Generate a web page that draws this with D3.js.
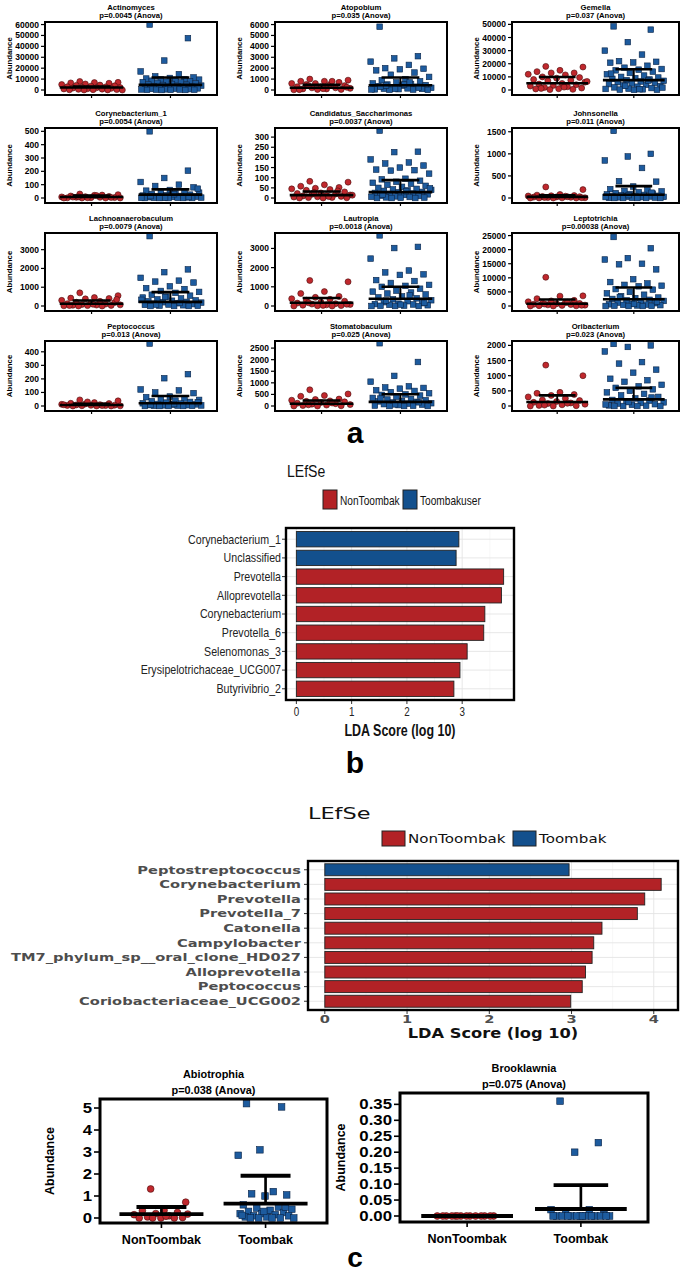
<!DOCTYPE html>
<html><head><meta charset="utf-8">
<script src="https://cdn.jsdelivr.net/npm/d3@7"></script>
<style>body{margin:0;background:#fff}svg{display:block}</style>
</head><body>
<svg id="fig" width="685" height="1275"></svg>
<script>
// ---------------- DATA ----------------
const groupNames = ["NonToombak", "Toombak"];

const panelTitles = ["Actinomyces","Atopobium","Gemella","Corynebacterium_1","Candidatus_Saccharimonas","Johnsonella",
  "Lachnoanaerobaculum","Lautropia","Leptotrichia","Peptococcus","Stomatobaculum","Oribacterium"];
const panelPValues = ["0.0045","0.035","0.037","0.0054","0.0037","0.011","0.0079","0.0018","0.00038","0.013","0.025","0.023"];
const panelYMax = [60500, 6050, 50300, 510, 335, 1540, 3780, 3700, 25200, 465, 2720, 2080];
const panelTicks = [
  [0,10000,20000,30000,40000,50000,60000],
  [0,1000,2000,3000,4000,5000,6000],
  [0,10000,20000,30000,40000,50000],
  [0,100,200,300,400,500],
  [0,50,100,150,200,250,300],
  [0,500,1000,1500],
  [0,1000,2000,3000],
  [0,1000,2000,3000],
  [0,5000,10000,15000,20000,25000],
  [0,100,200,300,400],
  [0,500,1000,1500,2000,2500],
  [0,500,1000,1500,2000]
];
const redMean  = [2300, 210, 5200, 8, 14, 25, 120, 170, 800, 7, 100, 130];
const redUpper = [3200, 480, 9900, 18, 32, 60, 290, 420, 2300, 17, 240, 350];
const blueMean  = [4700, 430, 7500, 25, 29, 75, 220, 380, 2400, 20, 180, 220];
const blueUpper = [11500, 1150, 15800, 65, 88, 270, 740, 1000, 6550, 74, 510, 600];

const redValues = [
  [7800,7000,6800,6500,6200,5500,5000,4500,4200,3800,3500,3000,2800,2500,2200,2000,1800,1500,1200,1000,800,600,400,300,200,100,50,0],
  [1000,900,800,800,700,600,600,500,500,400,300,300,200,200,150,100,100,50,50,20,800,400,250,120,30],
  [18000,17500,15000,14000,13000,13000,12000,11500,10000,9500,9000,8000,7500,7000,6000,5000,4500,4000,3500,3000,2500,2000,1500,1000,800,500,300,6500,2200,1200],
  [30,25,20,15,12,10,8,5,5,3,2,1,0,0,0,18,7,4,2,0,22,9],
  [82,78,65,58,52,48,45,42,38,30,25,22,20,18,15,12,10,8,6,5,3,2,1,0,0,35,28,14,7],
  [250,190,80,65,55,50,45,40,35,30,25,20,15,10,5,3,1,0,0,0,30,12,8],
  [700,550,450,420,400,380,300,250,200,180,150,120,100,80,60,50,40,30,20,10,0,0,350,90,25],
  [1330,1260,750,650,500,450,380,350,300,250,200,150,120,100,80,60,40,20,10,0,0,170,90,30],
  [10200,3600,3500,2600,2000,1800,1500,1200,1000,900,800,600,500,400,300,200,100,50,0,0,1300,700,250],
  [45,38,25,20,18,15,12,10,8,6,5,4,3,2,1,0,0,0,30,9,3],
  [700,520,450,420,300,280,250,220,200,180,150,120,100,80,60,40,20,10,0,0,130,50],
  [1350,1000,450,420,380,350,300,250,200,180,150,120,100,80,60,40,20,10,0,0,90,30]
];
const blueValues = [
  [60000,47500,27000,17000,14500,12500,11500,11000,10500,10000,9800,9500,9000,8500,8000,7600,7200,7000,6500,6000,5500,5000,4800,4500,4000,3600,3200,3000,2600,2200,2000,1800,1500,1200,1000,800,600,500,400,300,200,150,100,50,0],
  [5800,3100,2900,2600,2300,2000,1950,1900,1800,1600,1400,1200,1000,900,800,700,600,550,500,450,400,350,300,250,200,150,120,100,80,60,40,20,10,500,300,200,100,50,700,400],
  [48500,46000,36500,30000,27000,22000,21500,21000,20800,18500,17000,16000,15500,15000,14000,13000,12000,11000,10000,9500,9000,8500,8000,7500,7000,6500,6000,5500,5000,4500,4000,3500,3000,2500,2000,1500,1000,800,500,300,200,100,12500,7200,3200,1800,600],
  [500,205,150,120,100,90,80,60,55,50,45,40,35,30,25,20,18,15,12,10,8,6,5,4,3,2,1,0,0,0,0,0,70,28,14,7,3,1],
  [332,228,226,190,175,170,160,150,140,137,135,120,95,92,85,80,75,70,65,60,55,50,45,42,40,38,35,30,28,25,22,20,18,15,12,10,8,6,5,3,2,1,0,0,0,48,33,17],
  [1520,1000,940,850,680,380,370,260,200,180,160,150,130,110,100,90,80,70,60,50,45,40,35,30,25,20,15,10,5,3,1,0,0,0,0,120,65,22],
  [3720,1950,1800,1500,1350,1300,1250,1050,950,900,800,750,700,600,550,500,450,400,350,300,280,250,220,200,180,150,120,100,80,60,40,20,10,0,0,0,480,330,160,70],
  [3680,3080,3020,2470,1850,1750,1650,1620,1350,1300,1200,1100,1050,1000,900,800,750,700,650,600,500,450,400,350,300,250,200,150,120,100,80,60,40,20,10,0,0,0,550,280,160,70],
  [24500,20500,17000,16500,15000,14800,13000,9500,8500,8000,7500,7200,7000,6000,5800,5000,4500,4000,3500,3000,2800,2500,2200,2000,1800,1500,1200,1000,800,600,500,400,300,200,100,50,0,0,0,3200,1600,700],
  [461,235,205,122,115,100,95,70,65,55,50,45,40,35,30,25,20,18,15,12,10,8,6,5,4,3,2,1,0,0,0,0,28,14,7],
  [2710,1900,1300,1050,850,800,780,750,680,650,600,550,500,480,450,400,350,300,280,250,220,200,180,150,120,100,80,60,40,20,10,0,0,0,320,160,70],
  [2050,2000,1950,1800,1450,1400,1200,1100,900,850,800,700,650,600,550,500,450,400,350,300,250,200,180,150,120,100,80,60,40,20,10,0,0,0,0,280,130,50]
];

// LEfSe (b)
const lefseBTaxa = ["Corynebacterium_1","Unclassified","Prevotella","Alloprevotella","Corynebacterium","Prevotella_6","Selenomonas_3","Erysipelotrichaceae_UCG007","Butyrivibrio_2"];
const lefseBScores = [2.94, 2.89, 3.75, 3.71, 3.41, 3.39, 3.09, 2.96, 2.85];
const lefseBGroups = ["Toombakuser","Toombakuser","NonToombak","NonToombak","NonToombak","NonToombak","NonToombak","NonToombak","NonToombak"];
const lefseBLegend = ["NonToombak","Toombakuser"];
const lefseBTicks = [0,1,2,3];

// LEfSe (c)
const lefseCTaxa = ["Peptostreptococcus","Corynebacterium","Prevotella","Prevotella_7","Catonella","Campylobacter","TM7_phylum_sp__oral_clone_HD027","Alloprevotella","Peptococcus","Coriobacteriaceae_UCG002"];
const lefseCScores = [2.97, 4.09, 3.89, 3.80, 3.37, 3.27, 3.25, 3.17, 3.13, 2.99];
const lefseCGroups = ["Toombak","NonToombak","NonToombak","NonToombak","NonToombak","NonToombak","NonToombak","NonToombak","NonToombak","NonToombak"];
const lefseCLegend = ["NonToombak","Toombak"];
const lefseCTicks = [0,1,2,3,4];

// Bottom scatter panels (c)
const bottomTitles = ["Abiotrophia","Brooklawnia"];
const bottomPValues = ["0.038","0.075"];
const bottomYMax = [5.41, 0.3856];
const bottomTicks = [[0,1,2,3,4,5],[0,0.05,0.10,0.15,0.20,0.25,0.30,0.35]];
const bottomRedMean = [0.18, 0.0];
const bottomRedUpper = [0.50, 0.0];
const bottomBlueMean = [0.65, 0.022];
const bottomBlueUpper = [1.92, 0.097];
const abiotrophiaRed = [1.32,0.72,0.35,0.33,0.25,0.2,0.15,0.1,0.05,0.02,0,0,0,0,0.18,0.08];
const abiotrophiaBlue = [5.2,5.05,3.1,2.85,1.2,1.1,1.05,1.0,0.6,0.5,0.45,0.4,0.35,0.3,0.25,0.2,0.2,0.15,0.1,0.1,0.05,0.05,0,0,0,0,0,0.5,0.3,0.12];
const brooklawniaRed = [0,0,0,0,0,0,0,0,0,0,0,0,0,0];
const brooklawniaBlue = [0.36,0.23,0.20,0.02,0.02,0.01,0.005,0,0,0,0,0,0,0,0,0,0,0,0,0,0];

// ---------------- STYLE / LAYOUT ----------------
const RED_PT = "#c0282d", RED_PT_EDGE = "#4a0b0c";
const BLUE_PT = "#1d5b9e", BLUE_PT_EDGE = "#0a2446";
const RED_BAR = "#b22226", BLUE_BAR = "#13508d";
const SANS = "'Liberation Sans', Arial, Helvetica, sans-serif";
const DEJAVU = "'DejaVu Sans', Verdana, sans-serif";

const svg = d3.select("#fig");

function txt(g, x, y, s, o = {}) {
  return g.append("text")
    .attr("transform", `translate(${x},${y})` + (o.rot ? ` rotate(${o.rot})` : "") + ` scale(${o.sx || 1},1)`)
    .attr("text-anchor", o.anchor || "middle")
    .attr("dominant-baseline", o.base || "central")
    .attr("font-family", o.family || SANS)
    .attr("font-size", o.size || 10)
    .attr("font-weight", o.weight || "normal")
    .attr("fill", o.fill || "#000")
    .text(s);
}

function jitter(i, hw) {
  return (((i * 0.6180339887 + 0.31) % 1) - 0.5) * 2 * hw;
}

function scatter(p) {
  const g = svg.append("g");
  const { x0, x1, y0, y1 } = p.box;
  const w = x1 - x0;
  const y = d3.scaleLinear().domain([0, p.ymax]).range([y1 - p.padB, y0 + p.padT]);
  const x = d3.scalePoint().domain(groupNames).range([x0, x1]).padding(0.59);
  const cr = x(groupNames[0]), cb = x(groupNames[1]);
  const hw = p.jit * w;

  g.selectAll(".yt").data(p.ticks).join("line")
    .attr("x1", x0 - p.tickLen).attr("x2", x0).attr("y1", d => y(d)).attr("y2", d => y(d))
    .attr("stroke", "#000").attr("stroke-width", p.tickW);
  p.ticks.forEach(t => txt(g, x0 - p.tickLen - 2, y(t), p.fmt(t),
    { anchor: "end", size: p.tickSize, weight: "bold", sx: p.tickSx }));
  [cr, cb].forEach(cx => g.append("line").attr("x1", cx).attr("x2", cx)
    .attr("y1", y1).attr("y2", y1 + p.xTickLen).attr("stroke", "#000").attr("stroke-width", p.tickW));

  g.selectAll(".rp").data(p.red).join("circle")
    .attr("cx", (d, i) => cr + jitter(i, hw)).attr("cy", d => y(d)).attr("r", p.r)
    .attr("fill", RED_PT).attr("stroke", RED_PT_EDGE).attr("stroke-width", 0.6);
  g.selectAll(".bp").data(p.blue).join("rect")
    .attr("x", (d, i) => cb + jitter(i + 3, hw) - p.sq / 2).attr("y", d => y(d) - p.sq / 2)
    .attr("width", p.sq).attr("height", p.sq)
    .attr("fill", BLUE_PT).attr("stroke", BLUE_PT_EDGE).attr("stroke-width", 0.6);

  const mw = 0.185 * w, cw = 0.11 * w;
  [[cr, p.rMean, p.rUp], [cb, p.bMean, p.bUp]].forEach(([cx, m, u]) => {
    if (u > m) {
      g.append("line").attr("x1", cx).attr("x2", cx).attr("y1", y(m)).attr("y2", y(u))
        .attr("stroke", "#000").attr("stroke-width", p.lw * 0.7);
      g.append("line").attr("x1", cx - cw).attr("x2", cx + cw).attr("y1", y(u)).attr("y2", y(u))
        .attr("stroke", "#000").attr("stroke-width", p.lw);
    }
    g.append("line").attr("x1", cx - mw).attr("x2", cx + mw).attr("y1", y(m)).attr("y2", y(m))
      .attr("stroke", "#000").attr("stroke-width", p.lw);
  });

  g.append("rect").attr("x", x0).attr("y", y0).attr("width", w).attr("height", y1 - y0)
    .attr("fill", "none").attr("stroke", "#000").attr("stroke-width", p.boxW);

  txt(g, (x0 + x1) / 2, y0 + p.titleDy, p.title, { size: p.titleSize, weight: "bold", sx: p.titleSx });
  txt(g, (x0 + x1) / 2, y0 + p.pDy, `p=${p.p} (Anova)`, { size: p.titleSize, weight: "bold", sx: p.titleSx });
  txt(g, x0 - p.abOff, (y0 + y1) / 2, "Abundance", { size: p.abSize, weight: "bold", rot: -90 });
  if (p.xLabels) {
    txt(g, cr, y1 + p.xLabDy, groupNames[0], { size: p.xLabSize, weight: "bold", sx: p.xLabSx });
    txt(g, cb, y1 + p.xLabDy, groupNames[1], { size: p.xLabSize, weight: "bold", sx: p.xLabSx });
  }
}

// ---------------- PANEL a ----------------
const colX = [[45, 217], [275, 447], [512, 679]];
const rowY = [[22, 95], [128, 203], [233, 311], [341, 411]];
panelTitles.forEach((t, k) => {
  const c = k % 3, r = Math.floor(k / 3);
  scatter({
    box: { x0: colX[c][0], x1: colX[c][1], y0: rowY[r][0], y1: rowY[r][1] },
    ymax: panelYMax[k], ticks: panelTicks[k], fmt: d3.format("d"),
    red: redValues[k], blue: blueValues[k],
    rMean: redMean[k], rUp: redUpper[k], bMean: blueMean[k], bUp: blueUpper[k],
    title: t, p: panelPValues[k],
    padB: 5, padT: 2, jit: 0.18, r: 3, sq: 5.6, lw: 2.6, boxW: 2,
    tickLen: 4, tickW: 1.2, tickSize: 8.5, tickSx: 1, xTickLen: 3,
    titleSize: 8, titleSx: 0.96, titleDy: -15, pDy: -7,
    abOff: 36, abSize: 7.8, xLabels: false
  });
});
txt(svg, 355, 443, "a", { size: 30, weight: "bold", base: "auto" });

// ---------------- LEfSe ----------------
function lefse(cfg) {
  const g = svg.append("g");
  const { x0, x1, y0, y1 } = cfg.box;
  const maxV = d3.max(cfg.scores);
  const x = d3.scaleLinear().domain([-0.05 * maxV, 1.05 * maxV]).range([x0, x1]);
  const y = d3.scalePoint().domain(cfg.taxa).range([y0, y1]).padding(0.6);
  const color = d3.scaleOrdinal().domain(cfg.legend).range([RED_BAR, BLUE_BAR]);
  const dmax = x.domain()[1];
  const minor = d3.range(0.5, dmax, 1);

  g.selectAll(".mi").data(minor).join("line")
    .attr("x1", d => x(d)).attr("x2", d => x(d)).attr("y1", y0).attr("y2", y1)
    .attr("stroke", "#f2f2f2").attr("stroke-width", 0.6);
  g.selectAll(".ma").data(cfg.ticks).join("line")
    .attr("x1", d => x(d)).attr("x2", d => x(d)).attr("y1", y0).attr("y2", y1)
    .attr("stroke", "#e4e4e4").attr("stroke-width", 0.9);
  g.selectAll(".hg").data(cfg.taxa).join("line")
    .attr("x1", x0).attr("x2", x1).attr("y1", d => y(d)).attr("y2", d => y(d))
    .attr("stroke", "#e4e4e4").attr("stroke-width", 0.9);

  const bh = y.step() * 0.82;
  g.selectAll(".bar").data(cfg.taxa).join("rect")
    .attr("x", x(0)).attr("y", d => y(d) - bh / 2)
    .attr("width", (d, i) => x(cfg.scores[i]) - x(0)).attr("height", bh)
    .attr("fill", (d, i) => color(cfg.groups[i]))
    .attr("stroke", "#222").attr("stroke-width", 0.9);

  g.selectAll(".ytk").data(cfg.taxa).join("line")
    .attr("x1", x0 - 4).attr("x2", x0).attr("y1", d => y(d)).attr("y2", d => y(d))
    .attr("stroke", "#333").attr("stroke-width", 1);
  cfg.taxa.forEach(t => txt(g, x0 - cfg.labGap, y(t), t,
    { anchor: "end", size: cfg.labSize, family: cfg.family, weight: cfg.labWeight, sx: cfg.labSx, fill: cfg.labFill }));
  g.selectAll(".xtk").data(cfg.ticks).join("line")
    .attr("x1", d => x(d)).attr("x2", d => x(d)).attr("y1", y1).attr("y2", y1 + 4)
    .attr("stroke", "#333").attr("stroke-width", 1);
  cfg.ticks.forEach(t => txt(g, x(t), y1 + cfg.tickDy, String(t),
    { size: cfg.tickSize, family: cfg.family, weight: cfg.labWeight, sx: cfg.labSx, fill: cfg.labFill }));
  txt(g, (x0 + x1) / 2, y1 + cfg.xTitleDy, "LDA Score (log 10)",
    { size: cfg.xTitleSize, family: cfg.family, weight: "bold", sx: cfg.xTitleSx, fill: "#111" });

  g.append("rect").attr("x", x0).attr("y", y0).attr("width", x1 - x0).attr("height", y1 - y0)
    .attr("fill", "none").attr("stroke", "#000").attr("stroke-width", 2.4);

  txt(g, cfg.titleX, cfg.titleY, "LEfSe", { anchor: "start", size: cfg.titleSize, family: cfg.family, sx: cfg.titleSx, fill: "#111" });
  cfg.legend.forEach((L, i) => {
    const lx = cfg.legX[i];
    g.append("rect").attr("x", lx).attr("y", cfg.legY - cfg.swH / 2)
      .attr("width", cfg.swW).attr("height", cfg.swH)
      .attr("fill", color(L)).attr("stroke", "#222").attr("stroke-width", 1);
    txt(g, lx + cfg.swW + 3, cfg.legY, L, { anchor: "start", size: cfg.legSize, family: cfg.family, sx: cfg.legSx, fill: "#111" });
  });
}

lefse({
  box: { x0: 286, x1: 514, y0: 528, y1: 700 },
  taxa: lefseBTaxa, scores: lefseBScores, groups: lefseBGroups, legend: lefseBLegend, ticks: lefseBTicks,
  family: SANS, labSize: 13, labSx: 0.82, labWeight: "normal", labFill: "#222", labGap: 5,
  tickSize: 12, tickDy: 12, xTitleSize: 16, xTitleSx: 0.78, xTitleDy: 30,
  titleX: 287, titleY: 471, titleSize: 16, titleSx: 0.88,
  legX: [323, 403], legY: 499.5, swW: 14, swH: 19, legSize: 13, legSx: 0.78
});
txt(svg, 355, 773, "b", { size: 30, weight: "bold", base: "auto" });

lefse({
  box: { x0: 308, x1: 678, y0: 861, y1: 1010 },
  taxa: lefseCTaxa, scores: lefseCScores, groups: lefseCGroups, legend: lefseCLegend, ticks: lefseCTicks,
  family: DEJAVU, labSize: 11, labSx: 1.33, labWeight: "bold", labFill: "#4d4d4d", labGap: 7,
  tickSize: 11, tickDy: 9, xTitleSize: 14, xTitleSx: 1.16, xTitleDy: 23,
  titleX: 308, titleY: 814, titleSize: 16, titleSx: 1.4,
  legX: [382, 513], legY: 838.5, swW: 23, swH: 15, legSize: 12, legSx: 1.26
});

// ---------------- Bottom panels (c) ----------------
const bottomBoxes = [{ x0: 100, x1: 327, y0: 1099, y1: 1223 }, { x0: 400, x1: 648, y0: 1093, y1: 1222 }];
const bottomRed = [abiotrophiaRed, brooklawniaRed];
const bottomBlue = [abiotrophiaBlue, brooklawniaBlue];
const bottomFmt = [d3.format("d"), d3.format(".2f")];
const bottomPadB = [5, 6];
const bottomAbOff = [50, 59];
bottomTitles.forEach((t, k) => {
  scatter({
    box: bottomBoxes[k], ymax: bottomYMax[k], ticks: bottomTicks[k], fmt: bottomFmt[k],
    red: bottomRed[k], blue: bottomBlue[k],
    rMean: bottomRedMean[k], rUp: bottomRedUpper[k], bMean: bottomBlueMean[k], bUp: bottomBlueUpper[k],
    title: t, p: bottomPValues[k],
    padB: bottomPadB[k], padT: 0, jit: 0.125, r: 3.4, sq: 6.6, lw: 3.8, boxW: 3,
    tickLen: 6, tickW: 1.6, tickSize: 14, tickSx: 1.2, xTickLen: 5,
    titleSize: 11.5, titleSx: 0.95, titleDy: -25, pDy: -9,
    abOff: bottomAbOff[k], abSize: 12.5, xLabels: true, xLabDy: 16, xLabSize: 13.5, xLabSx: 0.93
  });
});
txt(svg, 355, 1267, "c", { size: 28, weight: "bold", base: "auto" });
</script>
</body></html>
